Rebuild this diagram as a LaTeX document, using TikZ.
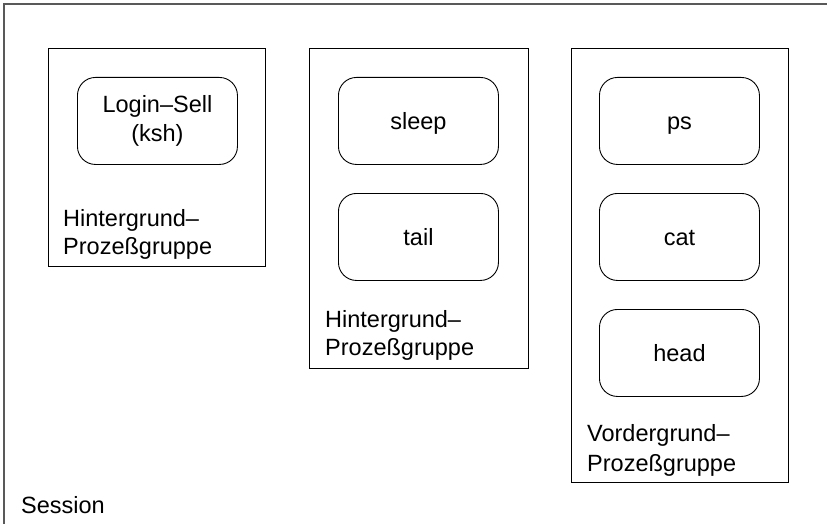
\documentclass[tikz,border=0pt]{standalone}
\usepackage{fontspec}
\setmainfont{Liberation Sans}
\begin{document}
\begin{tikzpicture}[x=1pt,y=-1pt,
  txt/.style={font=\fontsize{23.5}{29}\selectfont, inner sep=0pt},
  group/.style={draw, line width=0.9pt, anchor=north west, inner sep=0pt},
  proc/.style={draw, line width=0.9pt, rounded corners=18pt, anchor=north west, inner sep=0pt,
     minimum width=160pt, minimum height=87pt, font=\fontsize{23.5}{29}\selectfont, align=center},
  single/.style={text height=20pt, text depth=2pt},
  frame/.style={draw=black!65, line width=1.3pt}]
\useasboundingbox (0,0) rectangle (827,524);
\draw[frame] (830,4) -- (4,4) -- (4,530);
% groups
\node[group, minimum width=217pt, minimum height=218pt] (g1) at (48,48) {};
\node[group, minimum width=219pt, minimum height=320pt] (g2) at (309,48) {};
\node[group, minimum width=217pt, minimum height=434pt] (g3) at (571,48) {};
% processes
\node[proc] (login) at (77,77) {\raisebox{-4pt}{\parbox{150pt}{\centering Login–Sell\\(ksh)}}};
\node[proc, single] (sleep) at (338,77) {sleep};
\node[proc, single] (tail) at (338,193) {tail};
\node[proc, single] (ps) at (599,77) {ps};
\node[proc, single] (cat) at (599,193) {cat};
\node[proc, single] (head) at (599,309) {head};
% labels
\node[txt, anchor=base west] (l1a) at (63,226) {Hintergrund–};
\node[txt, anchor=base west] (l1b) at (63,254) {Prozeßgruppe};
\node[txt, anchor=base west] (l2a) at (325,327) {Hintergrund–};
\node[txt, anchor=base west] (l2b) at (325,355) {Prozeßgruppe};
\node[txt, anchor=base west] (l3a) at (587,441) {Vordergrund–};
\node[txt, anchor=base west] (l3b) at (587,471) {Prozeßgruppe};
\node[txt, anchor=base west] (sess) at (21,513) {Session};
\end{tikzpicture}
\end{document}
